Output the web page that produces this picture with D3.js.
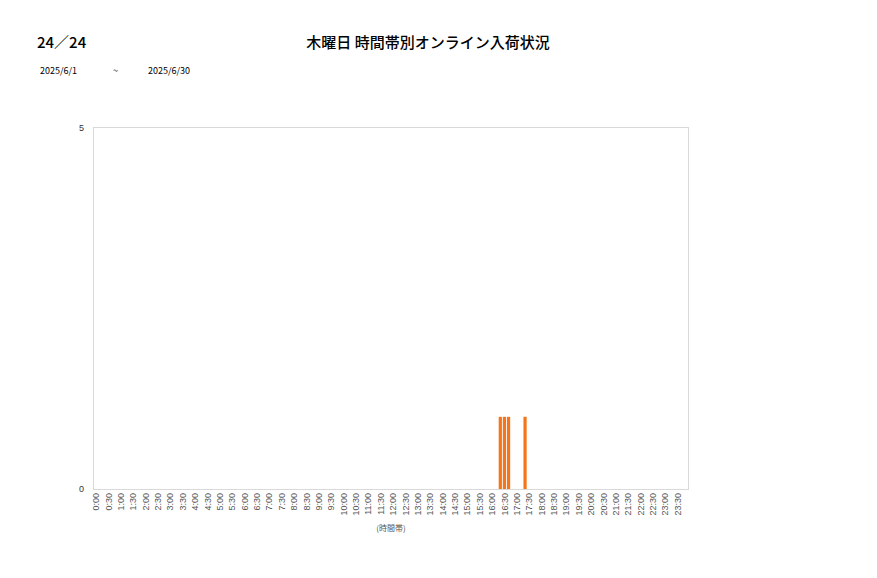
<!DOCTYPE html>
<html>
<head>
<meta charset="utf-8">
<script src="https://cdn.jsdelivr.net/npm/d3@7"></script>
<style>
  body { margin: 0; background: #fff; }
  svg { font-family: "Noto Sans CJK JP", "Noto Sans", sans-serif; }
</style>
</head>
<body>
<svg id="chart" width="877" height="578"></svg>
<script>
'use strict';

// 10-minute slots for one day, labels every 30 minutes
const slots = [];
for (let h = 0; h < 24; h++) {
  for (let m = 0; m < 60; m += 10) slots.push(h + ':' + (m === 0 ? '00' : m));
}
const arrivals = [
  { slot: '16:20', value: 1 },
  { slot: '16:30', value: 1 },
  { slot: '16:40', value: 1 },
  { slot: '17:20', value: 1 }
];
const yTicks = [0, 5];
const pageLabel = '24／24';
const titleText = '木曜日 時間帯別オンライン入荷状況';
const dateFrom = '2025/6/1';
const dateTo = '2025/6/30';
const xTitle = '(時間帯)';

const svg = d3.select('#chart');
const plot = { left: 94, top: 128, right: 688, bottom: 489 };

const x = d3.scaleBand().domain(slots)
  .range([plot.left, plot.right]).paddingInner(0.22).paddingOuter(0.11);
const y = d3.scaleLinear().domain([0, 5]).range([plot.bottom, plot.top]);

// header
svg.append('text').attr('x', 37).attr('y', 48)
  .attr('font-size', 15).attr('font-weight', 500).attr('fill', '#000').text(pageLabel);
svg.append('text').attr('x', 428).attr('y', 48).attr('text-anchor', 'middle')
  .attr('font-size', 15).attr('font-weight', 500).attr('fill', '#000').text(titleText);
svg.append('text').attr('x', 40).attr('y', 74).attr('font-size', 9).text(dateFrom);
svg.append('text').attr('x', 113).attr('y', 74).attr('font-size', 9).text('~');
svg.append('text').attr('x', 148).attr('y', 74).attr('font-size', 9).text(dateTo);

// plot frame
svg.append('rect')
  .attr('x', plot.left - 0.5).attr('y', plot.top - 0.5)
  .attr('width', plot.right - plot.left + 1).attr('height', plot.bottom - plot.top + 1)
  .attr('fill', 'none').attr('stroke', '#d9d9d9');

// bars
svg.append('g').selectAll('rect.bar').data(arrivals).join('rect')
  .attr('class', 'bar')
  .attr('x', d => x(d.slot))
  .attr('width', x.bandwidth())
  .attr('y', d => y(d.value))
  .attr('height', d => y(0) - y(d.value))
  .attr('fill', '#f5761a');

// y axis
const yAxisG = svg.append('g')
  .attr('transform', `translate(${plot.left},0)`)
  .call(d3.axisLeft(y).tickValues(yTicks).tickFormat(d3.format('d')).tickSize(0).tickPadding(10));
yAxisG.select('.domain').remove();
yAxisG.selectAll('text').attr('font-size', 9).attr('fill', '#333');

// x axis
const xAxisG = svg.append('g')
  .attr('transform', `translate(0,${plot.bottom})`)
  .call(d3.axisBottom(x).tickValues(slots.filter((d, i) => i % 3 === 0)).tickSize(0));
xAxisG.select('.domain').remove();
xAxisG.selectAll('text')
  .attr('font-size', 9).attr('fill', '#555')
  .attr('transform', 'rotate(-90)')
  .attr('text-anchor', 'end')
  .attr('x', -4).attr('y', 0).attr('dy', '0.35em');

svg.append('text').attr('x', 391).attr('y', 531).attr('text-anchor', 'middle')
  .attr('font-size', 8).attr('fill', '#555').text(xTitle);
</script>
</body>
</html>
